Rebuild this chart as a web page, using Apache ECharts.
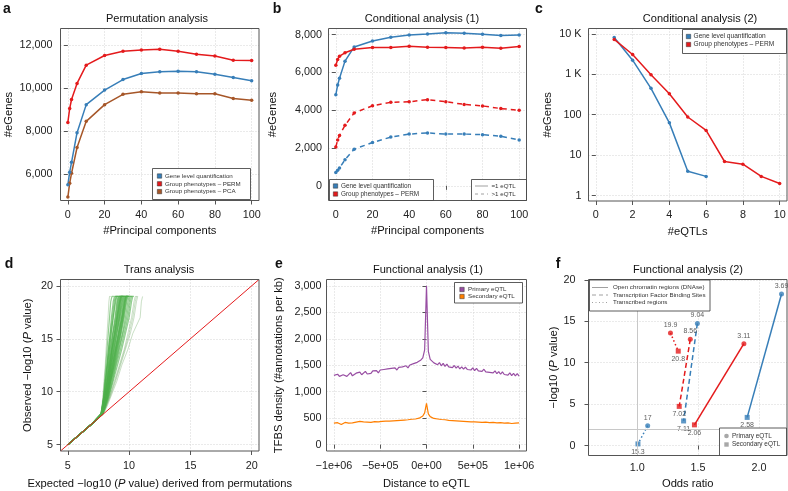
<!DOCTYPE html>
<html><head><meta charset="utf-8">
<script src="https://cdn.jsdelivr.net/npm/echarts@6/dist/echarts.min.js"></script>
<style>html,body{margin:0;padding:0;background:#fff}#c{width:788px;height:491px}</style>
</head><body><div id="c"></div>
<script>
// ---------- DATA ----------
// a: Permutation analysis
const pcs = [0, 1, 2, 5, 10, 20, 30, 40, 50, 60, 70, 80, 90, 100];
const permGene = [5490, 6080, 6540, 7920, 9230, 9910, 10400, 10680, 10760, 10790, 10760, 10650, 10500, 10340];
const permPerm = [8400, 9050, 9470, 10220, 11070, 11520, 11720, 11780, 11810, 11720, 11580, 11500, 11300, 11290];
const permPca = [4920, 5570, 6030, 7230, 8450, 9230, 9710, 9830, 9770, 9770, 9740, 9740, 9520, 9440];
// b: Conditional analysis (1)
const condGeneOne = [4820, 5340, 5690, 6600, 7350, 7670, 7860, 7980, 8030, 8100, 8070, 8020, 7960, 7980];
const condPermOne = [6380, 6690, 6860, 7040, 7230, 7320, 7320, 7390, 7340, 7320, 7300, 7340, 7280, 7370];
const condGeneMulti = [700, 820, 940, 1380, 1940, 2290, 2580, 2740, 2800, 2740, 2740, 2710, 2620, 2430];
const condPermMulti = [2060, 2430, 2670, 3200, 3860, 4240, 4420, 4450, 4560, 4450, 4310, 4230, 4090, 4000];
// c: Conditional analysis (2)
const nEqtlGene = [1, 2, 3, 4, 5, 6];
const c2Gene = [8100, 2230, 450, 63, 4, 3];
const nEqtlPerm = [1, 2, 3, 4, 5, 6, 7, 8, 9, 10];
const c2Perm = [7250, 3080, 970, 330, 88, 41, 7, 6, 3, 2];
// d: Trans analysis (QQ curves: expected value at each observed level)
const qqLevels = [5, 7, 7.9, 8.6, 9.5, 11, 12.5, 14, 15.5, 17, 18.5, 19, 19];
const qqStrong = [
  [5, 7, 7.7, 7.8, 7.9, 8.0, 8.1, 8.2, 8.3, 8.4, 8.5, 8.6, 8.75],
  [5, 7, 7.7, 7.8, 7.92, 8.05, 8.2, 8.3, 8.45, 8.55, 8.7, 8.8, 8.95],
  [5, 7, 7.72, 7.82, 7.95, 8.1, 8.25, 8.4, 8.55, 8.7, 8.9, 9.0, 9.15],
  [5, 7, 7.72, 7.85, 8.0, 8.15, 8.3, 8.45, 8.65, 8.85, 9.0, 9.1, 9.3],
  [5, 7, 7.74, 7.85, 8.0, 8.2, 8.35, 8.55, 8.7, 8.95, 9.1, 9.2, 9.4],
  [5, 7, 7.74, 7.88, 8.05, 8.2, 8.4, 8.6, 8.8, 9.0, 9.2, 9.3, 9.45],
  [5, 7, 7.75, 7.9, 8.05, 8.25, 8.45, 8.6, 8.85, 9.05, 9.25, 9.35, 9.5],
  [5, 7, 7.75, 7.9, 8.1, 8.3, 8.5, 8.7, 8.9, 9.15, 9.3, 9.4, 9.6],
  [5, 7, 7.76, 7.92, 8.1, 8.3, 8.55, 8.75, 9.0, 9.2, 9.4, 9.5, 9.65],
  [5, 7, 7.76, 7.92, 8.12, 8.35, 8.55, 8.8, 9.0, 9.25, 9.45, 9.55, 9.7],
  [5, 7, 7.78, 7.95, 8.15, 8.4, 8.6, 8.85, 9.1, 9.3, 9.5, 9.6, 9.8],
  [5, 7, 7.78, 7.95, 8.15, 8.4, 8.65, 8.9, 9.15, 9.4, 9.6, 9.7, 9.85],
  [5, 7, 7.8, 7.98, 8.2, 8.45, 8.7, 8.95, 9.2, 9.45, 9.65, 9.75, 9.9],
  [5, 7, 7.8, 8.0, 8.2, 8.5, 8.75, 9.0, 9.3, 9.5, 9.7, 9.8, 10.0],
  [5, 7, 7.8, 8.0, 8.25, 8.5, 8.8, 9.1, 9.35, 9.6, 9.8, 9.9, 10.05],
  [5, 7, 7.82, 8.02, 8.25, 8.55, 8.85, 9.15, 9.45, 9.7, 9.9, 10.0, 10.15],
  [5, 7, 7.82, 8.05, 8.3, 8.6, 8.9, 9.2, 9.5, 9.8, 10.0, 10.1, 10.25],
  [5, 7, 7.85, 8.05, 8.3, 8.65, 8.95, 9.3, 9.6, 9.9, 10.1, 10.2, 10.3],
  [5, 7, 7.85, 8.1, 8.35, 8.7, 9.05, 9.4, 9.7, 10.0, 10.2, 10.3, 10.4],
  [5, 7, 7.75, 7.9, 8.1, 8.35, 8.5, 8.75, 8.95, 9.2, 9.35, 9.45, 9.6],
  [5, 7, 7.77, 7.94, 8.12, 8.38, 8.62, 8.88, 9.12, 9.38, 9.55, 9.65, 9.8],
  [5, 7, 7.8, 7.98, 8.22, 8.48, 8.78, 9.05, 9.3, 9.55, 9.75, 9.85, 10.0],
  [5, 7, 7.74, 7.86, 8.02, 8.22, 8.4, 8.58, 8.78, 9.0, 9.15, 9.25, 9.4],
  [5, 7, 7.72, 7.82, 7.95, 8.08, 8.22, 8.38, 8.52, 8.7, 8.85, 8.95, 9.1],
  [5, 7, 7.73, 7.84, 7.98, 8.18, 8.32, 8.5, 8.68, 8.9, 9.05, 9.15, 9.3],
  [5, 7, 7.76, 7.9, 8.08, 8.28, 8.48, 8.66, 8.88, 9.1, 9.28, 9.38, 9.55],
  [5, 7, 7.78, 7.96, 8.14, 8.42, 8.66, 8.92, 9.18, 9.42, 9.62, 9.72, 9.9],
  [5, 7, 7.79, 7.97, 8.18, 8.44, 8.72, 8.98, 9.25, 9.5, 9.68, 9.78, 9.95],
  [5, 7, 7.74, 7.88, 8.06, 8.26, 8.44, 8.62, 8.82, 9.05, 9.22, 9.32, 9.5],
  [5, 7, 7.71, 7.81, 7.93, 8.06, 8.18, 8.32, 8.46, 8.62, 8.78, 8.88, 9.05]
];
const qqFaint = [
  [5, 7, 7.85, 8.1, 8.4, 8.8, 9.2, 9.6, 9.9, 10.2, 10.4, 10.5, 10.6],
  [5, 7, 7.9, 8.15, 8.45, 8.9, 9.3, 9.7, 10.1, 10.4, 10.6, 10.7, 10.75],
  [5, 7, 7.9, 8.2, 8.5, 9.0, 9.4, 9.9, 10.3, 10.9, 11.0, 11.1, 11.15],
  [5, 7, 7.88, 8.12, 8.42, 8.85, 9.25, 9.65, 10.0, 10.3, 10.5, 10.6, 10.7],
  [5, 7, 7.7, 7.78, 7.85, 7.95, 8.05, 8.12, 8.2, 8.28, 8.35, 8.4, 8.5]
];
const diagonal = [4.4, 20.6];
// e: Functional analysis (1), distance in kb
const distanceKb = [-1000,-980,-960,-940,-920,-900,-880,-860,-840,-820,-800,-780,-760,-740,-720,-700,-680,-660,-640,-620,-600,-580,-560,-540,-520,-500,-480,-460,-440,-420,-400,-380,-360,-340,-320,-300,-280,-260,-240,-220,-200,-180,-160,-140,-120,-100,-80,-60,-40,-20,0,20,40,60,80,100,120,140,160,180,200,220,240,260,280,300,320,340,360,380,400,420,440,460,480,500,520,540,560,580,600,620,640,660,680,700,720,740,760,780,800,820,840,860,880,900,920,940,960,980,1000];
const tfbsPrimary = [1310,1275,1330,1290,1265,1320,1345,1290,1310,1360,1300,1285,1350,1325,1370,1320,1340,1385,1335,1370,1345,1395,1360,1400,1355,1410,1375,1420,1385,1430,1395,1440,1405,1450,1410,1460,1425,1470,1440,1490,1450,1505,1470,1530,1495,1555,1520,1600,1640,1790,
  3000,
  1760,1610,1630,1545,1580,1510,1550,1490,1535,1480,1520,1470,1505,1455,1495,1445,1485,1430,1470,1425,1465,1420,1455,1410,1450,1400,1440,1395,1430,1385,1425,1375,1410,1365,1400,1355,1395,1340,1380,1330,1375,1325,1360,1315,1355,1305,1345,1300,1340,1295];
const tfbsSecondary = [405,385,415,395,380,410,420,395,405,430,410,395,425,415,440,420,430,445,425,440,420,450,435,455,430,450,440,460,445,465,445,470,450,470,455,475,460,480,465,485,470,490,480,500,485,505,500,525,540,600,
  780,
  580,530,520,495,510,485,500,475,495,470,485,460,480,455,475,450,470,445,465,440,460,435,455,430,450,430,445,425,440,420,445,425,440,415,435,420,440,410,430,415,435,405,425,410,430,400,420,405,425,410];
// f: Functional analysis (2)  [DNAse, TFBS, Transcribed]
const fGenePrimOR = [2.185, 1.494, 1.086];
const fGenePrimP = [18.3, 14.75, 2.4];
const fGenePrimLbl = ['3.69', '9.04', '17'];
const fGeneSecOR = [1.903, 1.381, 1.006];
const fGeneSecP = [3.4, 2.97, 0.2];
const fGeneSecLbl = ['2.58', '7.11', '15.3'];
const fPermPrimOR = [1.876, 1.436, 1.273];
const fPermPrimP = [12.3, 12.83, 13.6];
const fPermPrimLbl = ['3.11', '8.56', '19.9'];
const fPermSecOR = [1.47, 1.345, 1.337];
const fPermSecP = [2.5, 4.73, 11.4];
const fPermSecLbl = ['2.06', '7.02', '20.8'];
const fRefOR = 1;
const fRefP = 2;

// tick labels
const ticksPc = [0, 20, 40, 60, 80, 100];
const ticksA = [6000, 8000, 10000, 12000];
const ticksB = [0, 2000, 4000, 6000, 8000];
const ticksCx = [0, 2, 4, 6, 8, 10];
const ticksCy = [1, 10, 100, 1000, 10000];
const ticksCyLbl = ['1', '10', '100', '1 K', '10 K'];
const ticksD = [5, 10, 15, 20];
const ticksEx = [-1000000, -500000, 0, 500000, 1000000];
const ticksExLbl = ['\u22121e+06', '\u22125e+05', '0e+00', '5e+05', '1e+06'];
const ticksEy = [0, 500, 1000, 1500, 2000, 2500, 3000];
const ticksFx = [1.0, 1.5, 2.0];
const ticksFy = [0, 5, 10, 15, 20];

// ---------- STYLE ----------
const FONT = '"Liberation Sans", Arial, Helvetica, sans-serif';
const BLUE = '#377EB8', RED = '#E41A1C', BROWN = '#A65628', GREEN = '#4DAF4A', PURPLE = '#984EA3', ORANGE = '#FF7F00';

const grids = [
  {left: 60.5, top: 28.5, width: 198.5, height: 172},
  {left: 328.5, top: 28.5, width: 198, height: 172},
  {left: 588.5, top: 28.5, width: 198.5, height: 172.5},
  {left: 60.5, top: 279.5, width: 198.5, height: 171.5},
  {left: 326.5, top: 279.5, width: 200, height: 171.5},
  {left: 588.5, top: 279.5, width: 198.5, height: 176}
];

const comma = v => String(v).replace(/\B(?=(\d{3})+(?!\d))/g, ',');

function ax(gi, dim, o) {
  return {
    type: o.type || 'value', gridIndex: gi, min: o.min, max: o.max,
    logBase: 10,
    position: dim === 'x' ? 'bottom' : 'left',
    name: o.name, nameLocation: 'middle', nameGap: o.nameGap,
    nameTextStyle: {fontFamily: FONT, fontSize: 11.2, color: '#111',
      rich: {i: {fontFamily: FONT, fontSize: 11.2, color: '#111', fontStyle: 'italic'}}},
    axisLine: {show: false},
    axisTick: {show: true, inside: false, length: 4, lineStyle: {color: '#555', width: 1}, customValues: o.ticks},
    axisLabel: {show: true, margin: o.margin, fontFamily: FONT, fontSize: 10.8, color: '#222',
      customValues: o.ticks, formatter: o.fmt},
    splitLine: {show: true, lineStyle: {color: '#d4d4d4', type: [1, 2], width: 1}},
    splitNumber: 5
  };
}

const xAxes = [
  ax(0, 'x', {min: -4, max: 104, ticks: ticksPc, fmt: v => String(v), name: '#Principal components', nameGap: 25, margin: 9}),
  ax(1, 'x', {min: -4, max: 104, ticks: ticksPc, fmt: v => String(v), name: '#Principal components', nameGap: 25, margin: 9}),
  ax(2, 'x', {min: -0.4, max: 10.4, ticks: ticksCx, fmt: v => String(v), name: '#eQTLs', nameGap: 25, margin: 9}),
  ax(3, 'x', {min: 4.4, max: 20.6, ticks: ticksD, fmt: v => String(v), name: 'Expected \u2212log10 ({i|P} value) derived from permutations', nameGap: 27, margin: 10}),
  ax(4, 'x', {min: -1080000, max: 1080000, ticks: ticksEx, fmt: v => ticksExLbl[ticksEx.indexOf(v)], name: 'Distance to eQTL', nameGap: 27, margin: 10}),
  ax(5, 'x', {min: 0.6, max: 2.23, ticks: ticksFx, fmt: v => v.toFixed(1), name: 'Odds ratio', nameGap: 23, margin: 7})
];
const yAxes = [
  ax(0, 'y', {min: 4760, max: 12780, ticks: ticksA, fmt: comma, name: '#eGenes', nameGap: 46, margin: 8}),
  ax(1, 'y', {min: -776, max: 8327, ticks: ticksB, fmt: comma, name: '#eGenes', nameGap: 50, margin: 6.5}),
  ax(2, 'y', {type: 'log', min: 0.74, max: 13500, ticks: ticksCy, fmt: v => ticksCyLbl[ticksCy.indexOf(Math.round(v))], name: '#eGenes', nameGap: 35, margin: 7}),
  ax(3, 'y', {min: 4.4, max: 20.6, ticks: ticksD, fmt: v => String(v), name: 'Observed \u2212log10 ({i|P} value)', nameGap: 27, margin: 7.5}),
  ax(4, 'y', {min: -120, max: 3120, ticks: ticksEy, fmt: comma, name: 'TFBS density (#annotations per kb)', nameGap: 42, margin: 5}),
  ax(5, 'y', {min: -1.2, max: 20.05, ticks: ticksFy, fmt: v => String(v), name: '\u2212log10 ({i|P} value)', nameGap: 26, margin: 13})
];

const series = [];
function lineS(gi, xs, ys, color, dashed, sym) {
  series.push({type: 'line', xAxisIndex: gi, yAxisIndex: gi, data: xs.map((x, i) => [x, ys[i]]),
    symbol: sym ? 'circle' : 'none', symbolSize: 3.5, showSymbol: !!sym,
    lineStyle: {color, width: 1.5, type: dashed ? [5, 4] : 'solid'}, itemStyle: {color},
    silent: true, animation: false, z: 3});
}
// a
lineS(0, pcs, permPca, BROWN, false, true);
lineS(0, pcs, permGene, BLUE, false, true);
lineS(0, pcs, permPerm, RED, false, true);
// b
lineS(1, pcs, condGeneMulti, BLUE, true, true);
lineS(1, pcs, condPermMulti, RED, true, true);
lineS(1, pcs, condGeneOne, BLUE, false, true);
lineS(1, pcs, condPermOne, RED, false, true);
// c
lineS(2, nEqtlGene, c2Gene, BLUE, false, true);
lineS(2, nEqtlPerm, c2Perm, RED, false, true);
// d
qqFaint.forEach(l => series.push({type: 'line', xAxisIndex: 3, yAxisIndex: 3, symbol: 'none', silent: true,
  data: l.map((x, i) => [x, qqLevels[i]]), lineStyle: {color: 'rgba(120,175,110,0.4)', width: 1}, z: 2}));
qqStrong.forEach(l => series.push({type: 'line', xAxisIndex: 3, yAxisIndex: 3, symbol: 'none', silent: true,
  data: l.map((x, i) => [x, qqLevels[i]]), lineStyle: {color: 'rgba(77,175,74,0.6)', width: 1.2}, z: 2}));
series.push({type: 'line', xAxisIndex: 3, yAxisIndex: 3, symbol: 'none', silent: true,
  data: diagonal.map(v => [v, v]), lineStyle: {color: RED, width: 1}, z: 3});
// e
series.push({type: 'line', xAxisIndex: 4, yAxisIndex: 4, symbol: 'none', silent: true,
  data: distanceKb.map((d, i) => [d * 1000, tfbsPrimary[i]]), lineStyle: {color: PURPLE, width: 1.2}, z: 3});
series.push({type: 'line', xAxisIndex: 4, yAxisIndex: 4, symbol: 'none', silent: true,
  data: distanceKb.map((d, i) => [d * 1000, tfbsSecondary[i]]), lineStyle: {color: ORANGE, width: 1.2}, z: 3});
// f
const fTypes = ['solid', [5, 3], [1.5, 2.5]];
series.push({type: 'line', xAxisIndex: 5, yAxisIndex: 5, data: [], symbol: 'none', silent: true,
  markLine: {silent: true, symbol: 'none', label: {show: false}, animation: false,
    lineStyle: {color: '#c8c8c8', type: 'solid', width: 1},
    data: [{xAxis: fRefOR}, {yAxis: fRefP}]}});
[[fGenePrimOR, fGenePrimP, fGeneSecOR, fGeneSecP, BLUE], [fPermPrimOR, fPermPrimP, fPermSecOR, fPermSecP, RED]].forEach(g => {
  for (let k = 0; k < 3; k++) {
    series.push({type: 'line', xAxisIndex: 5, yAxisIndex: 5, symbol: 'none', silent: true, z: 3,
      data: [[g[0][k], g[1][k]], [g[2][k], g[3][k]]], lineStyle: {color: g[4], width: 1.5, type: fTypes[k]}});
  }
});
function fPts(xs, ys, lbls, color, shape, pos) {
  series.push({type: 'scatter', xAxisIndex: 5, yAxisIndex: 5, symbol: shape, symbolSize: 5, silent: true, z: 4,
    itemStyle: {color}, data: xs.map((x, i) => ({value: [x, ys[i]], label: {formatter: lbls[i]}})),
    label: {show: true, position: pos, distance: 2, fontFamily: FONT, fontSize: 7, color: '#333'}});
}
fPts(fGenePrimOR, fGenePrimP, fGenePrimLbl, BLUE, 'circle', 'top');
fPts(fGeneSecOR, fGeneSecP, fGeneSecLbl, BLUE, 'rect', 'bottom');
fPts(fPermPrimOR, fPermPrimP, fPermPrimLbl, RED, 'circle', 'top');
fPts(fPermSecOR, fPermSecP, fPermSecLbl, RED, 'rect', 'bottom');

// ---------- GRAPHICS (frames, titles, legends) ----------
const G = [];
grids.forEach(g => G.push({type: 'rect', z: 50, silent: true, shape: {x: g.left, y: g.top, width: g.width, height: g.height},
  style: {fill: 'none', stroke: '#555', lineWidth: 1}}));
function txt(x, y, text, size, o = {}) {
  G.push({type: 'text', x, y, z: 101, silent: true, style: {text, fill: o.color || '#111',
    font: (o.bold ? 'bold ' : '') + size + 'px ' + FONT,
    textAlign: o.align || 'left', align: o.align || 'left', textVerticalAlign: 'middle', verticalAlign: 'middle'}});
}
function box(x, y, w, h) {
  G.push({type: 'rect', z: 100, silent: true, shape: {x, y, width: w, height: h}, style: {fill: '#fff', stroke: '#333', lineWidth: 0.8}});
}
function sq(x, y, color) {
  G.push({type: 'rect', z: 101, silent: true, shape: {x: x - 2.2, y: y - 2.2, width: 4.4, height: 4.4}, style: {fill: color, stroke: '#333', lineWidth: 0.5}});
}
function seg(x1, x2, y, dash) {
  G.push({type: 'line', z: 101, silent: true, shape: {x1, y1: y, x2, y2: y}, style: {stroke: '#a0a0a0', lineWidth: 1, lineDash: dash}});
}
// panel letters
txt(7, 9, 'a', 14, {bold: true, align: 'center'});
txt(277, 9, 'b', 14, {bold: true, align: 'center'});
txt(539, 9, 'c', 14, {bold: true, align: 'center'});
txt(9, 264, 'd', 14, {bold: true, align: 'center'});
txt(279, 264, 'e', 14, {bold: true, align: 'center'});
txt(558, 264, 'f', 14, {bold: true, align: 'center'});
// titles
txt(157, 18.5, 'Permutation analysis', 11, {align: 'center'});
txt(422, 18.5, 'Conditional analysis (1)', 11, {align: 'center'});
txt(700, 18.5, 'Conditional analysis (2)', 11, {align: 'center'});
txt(159, 269.5, 'Trans analysis', 11, {align: 'center'});
txt(428, 269.5, 'Functional analysis (1)', 11, {align: 'center'});
txt(688, 269.5, 'Functional analysis (2)', 11, {align: 'center'});
// legend a
box(152.5, 168.5, 98, 31);
sq(159.5, 176, BLUE); txt(165, 176, 'Gene level quantification', 6.2, {color: '#333'});
sq(159.5, 183.8, RED); txt(165, 183.8, 'Group phenotypes \u2013 PERM', 6.2, {color: '#333'});
sq(159.5, 191.6, BROWN); txt(165, 191.6, 'Group phenotypes \u2013 PCA', 6.2, {color: '#333'});
// legend b
box(329.5, 179.5, 104, 21);
sq(335.5, 186, BLUE); txt(341, 186, 'Gene level quantification', 6.4, {color: '#333'});
sq(335.5, 194, RED); txt(341, 194, 'Group phenotypes \u2013 PERM', 6.4, {color: '#333'});
box(471.5, 179.5, 55, 21);
seg(475, 488, 186, null); txt(491.5, 186, '=1 eQTL', 6.2, {color: '#333'});
seg(475, 488, 194, [3, 3]); txt(491.5, 194, '>1 eQTL', 6.2, {color: '#333'});
// legend c
box(682.5, 29.5, 104, 24);
sq(688.5, 36.5, BLUE); txt(693.5, 36.5, 'Gene level quantification', 6.6, {color: '#333'});
sq(688.5, 44.5, RED); txt(693.5, 44.5, 'Group phenotypes \u2013 PERM', 6.6, {color: '#333'});
// legend e
box(454.5, 282.5, 68, 20.5);
sq(462, 289.5, PURPLE); txt(468, 289.5, 'Primary eQTL', 6.2, {color: '#333'});
sq(462, 296.5, ORANGE); txt(468, 296.5, 'Secondary eQTL', 6.2, {color: '#333'});
// legend f
box(589.5, 280, 120.5, 31);
seg(592, 608, 287.5, null); txt(613, 287.5, 'Open chromatin regions (DNAse)', 6.2, {color: '#333'});
seg(592, 608, 295, [4, 3]); txt(613, 295, 'Transcription Factor Binding Sites', 6.2, {color: '#333'});
seg(592, 608, 302.5, [1, 2.5]); txt(613, 302.5, 'Transcribed regions', 6.2, {color: '#333'});
box(719.5, 428, 67, 27.5);
G.push({type: 'circle', z: 101, silent: true, shape: {cx: 726.5, cy: 436, r: 2.3}, style: {fill: '#a8a8a8'}});
txt(732, 436, 'Primary eQTL', 6.4, {color: '#333'});
G.push({type: 'rect', z: 101, silent: true, shape: {x: 724.3, y: 442.3, width: 4.4, height: 4.4}, style: {fill: '#a8a8a8'}});
txt(732, 444.5, 'Secondary eQTL', 6.4, {color: '#333'});

const chart = echarts.init(document.getElementById('c'), null, {renderer: 'canvas'});
chart.setOption({
  animation: false,
  backgroundColor: '#fff',
  grid: grids.map(g => Object.assign({containLabel: false, outerBoundsMode: 'none', show: false}, g)),
  xAxis: xAxes, yAxis: yAxes, series, graphic: {elements: G}
});
</script></body></html>
